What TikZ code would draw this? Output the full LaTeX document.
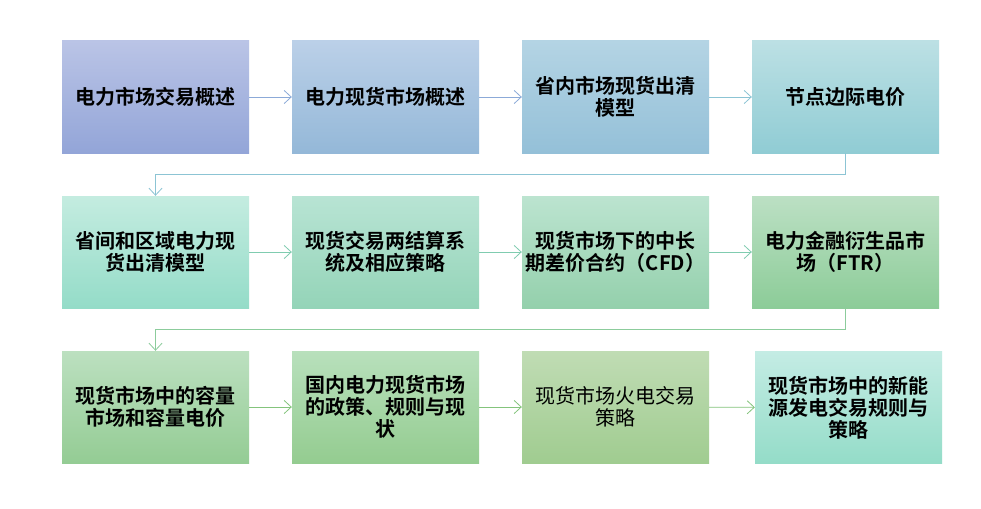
\documentclass[tikz,border=0pt]{standalone}
\usepackage{fontspec}
\setmainfont{Noto Sans CJK SC}[BoldFont={Noto Sans CJK SC Bold}]
\usetikzlibrary{arrows.meta}
\definecolor{a1t}{HTML}{BAC4E6}\definecolor{a1b}{HTML}{93A5D8}
\definecolor{a2t}{HTML}{BBD0E8}\definecolor{a2b}{HTML}{94B8D8}
\definecolor{a3t}{HTML}{B4D4E4}\definecolor{a3b}{HTML}{94C0D8}
\definecolor{a4t}{HTML}{BCE0E4}\definecolor{a4b}{HTML}{90CCD4}
\definecolor{b1t}{HTML}{C4ECE0}\definecolor{b1b}{HTML}{94DCC8}
\definecolor{b2t}{HTML}{B8E4D4}\definecolor{b2b}{HTML}{94D4B8}
\definecolor{b3t}{HTML}{BCE4D0}\definecolor{b3b}{HTML}{94D0AC}
\definecolor{b4t}{HTML}{BCE0C4}\definecolor{b4b}{HTML}{8CCC98}
\definecolor{c1t}{HTML}{BCE0C0}\definecolor{c1b}{HTML}{94CC94}
\definecolor{c2t}{HTML}{B8E0BC}\definecolor{c2b}{HTML}{94CC90}
\definecolor{c3t}{HTML}{C0DCB4}\definecolor{c3b}{HTML}{A0CC90}
\definecolor{c4t}{HTML}{C4ECE4}\definecolor{c4b}{HTML}{94DCC8}
\definecolor{arrA}{HTML}{8CAAD8}
\definecolor{arrB}{HTML}{80CCB0}
\definecolor{arrC}{HTML}{84C47C}
\definecolor{connA}{HTML}{8CC4D4}
\definecolor{connB}{HTML}{8CCC9C}
\begin{document}
\begin{tikzpicture}[x=1pt,y=-1pt,
  box/.style={minimum width=187pt,minimum height=112pt,inner sep=0pt,align=center,
    font=\fontsize{20}{22}\selectfont\bfseries,text=black},
  flow/.style={-{Straight Barb[length=7pt,width=13pt]},line width=0.8pt}]
\useasboundingbox (0,0) rectangle (981,508);
\fill[white] (0,0) rectangle (981,508);
% row 1
\node[box,top color=a1t,bottom color=a1b] (n1) at (155.5,97) {电力市场交易概述};
\node[box,top color=a2t,bottom color=a2b] (n2) at (385.5,97) {电力现货市场概述};
\node[box,top color=a3t,bottom color=a3b] (n3) at (615.5,97) {省内市场现货出清\\模型};
\node[box,top color=a4t,bottom color=a4b] (n4) at (845.5,97) {节点边际电价};
% row 2
\node[box,top color=b1t,bottom color=b1b] (n5) at (155.5,252) {省间和区域电力现\\货出清模型};
\node[box,top color=b2t,bottom color=b2b] (n6) at (385.5,252) {现货交易两结算系\\统及相应策略};
\node[box,top color=b3t,bottom color=b3b] (n7) at (615.5,252) {现货市场下的中长\\期差价合约（CFD）};
\node[box,top color=b4t,bottom color=b4b] (n8) at (845.5,252) {电力金融衍生品市\\场（FTR）};
% row 3
\node[box,top color=c1t,bottom color=c1b] (n9) at (155.5,407) {现货市场中的容量\\市场和容量电价};
\node[box,top color=c2t,bottom color=c2b] (n10) at (385.5,407) {国内电力现货市场\\的政策、规则与现\\状};
\node[box,top color=c3t,bottom color=c3b,font=\fontsize{20}{22}\selectfont\mdseries] (n11) at (615.5,407) {现货市场火电交易\\策略};
\node[box,top color=c4t,bottom color=c4b] (n12) at (848.5,407.5) {现货市场中的新能\\源发电交易规则与\\策略};
% arrows
\draw[flow,arrA] (n1) -- (n2);
\draw[flow,arrA] (n2) -- (n3);
\draw[flow,connA] (n3) -- (n4);
\draw[flow,connA] (n4.south) -- ++(0,21) -| (n5.north);
\draw[flow,arrB] (n5) -- (n6);
\draw[flow,arrB] (n6) -- (n7);
\draw[flow,arrB] (n7) -- (n8);
\draw[flow,connB] (n8.south) -- ++(0,21) -| (n9.north);
\draw[flow,arrC] (n9) -- (n10);
\draw[flow,arrC] (n10) -- (n11);
\draw[flow,arrC] (n11) -- (n12);
\end{tikzpicture}
\end{document}
